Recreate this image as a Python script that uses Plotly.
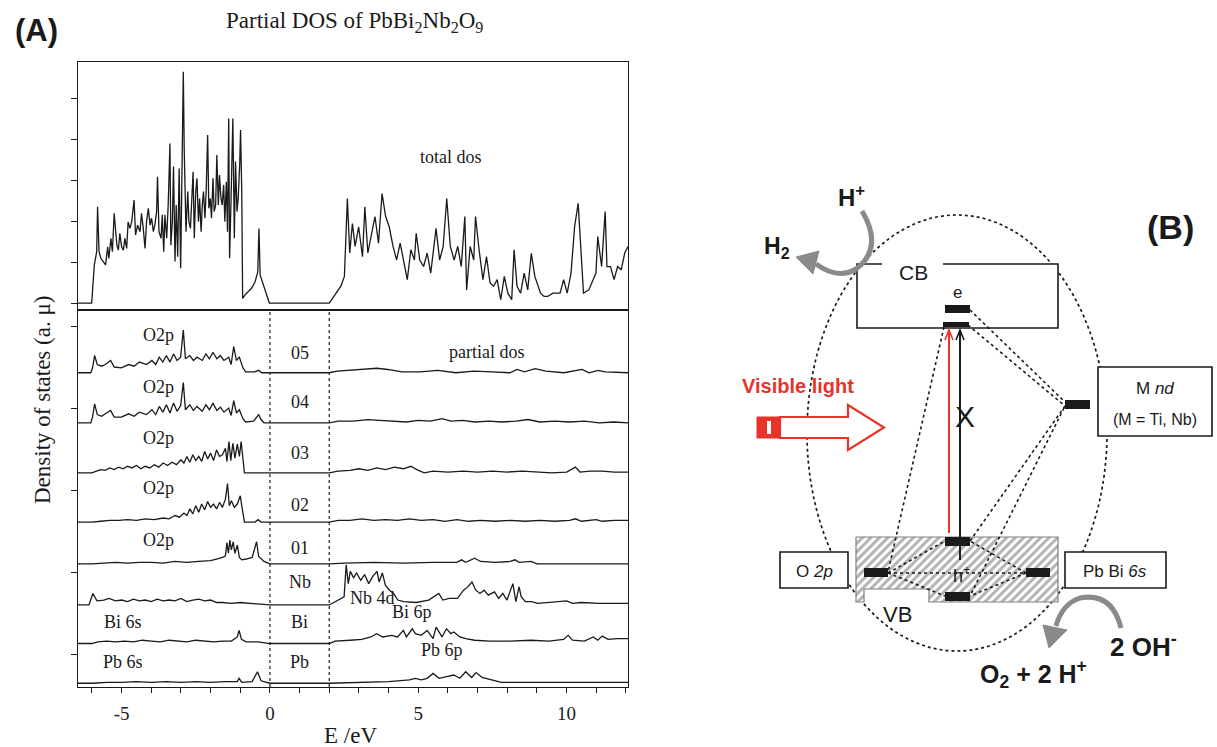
import plotly.graph_objects as go

W, H = 1217, 747

# ------------------------------------------------------------------ data
# Panel A: total DOS, (energy eV, DOS in upper-panel tick units)
total_valence = [(-6.47, 0), (-6.01, 0), (-5.99, 0.20), (-5.92, 0.93), (-5.84, 1.25), (-5.81, 2.35), (-5.76, 1.25),
                 (-5.70, 1.09), (-5.62, 1.01), (-5.54, 0.93), (-5.47, 1.37), (-5.43, 1.09), (-5.36, 1.58),
                 (-5.31, 1.25), (-5.25, 2.19), (-5.20, 1.74), (-5.16, 1.41), (-5.11, 1.29), (-5.06, 1.70),
                 (-5.00, 1.37), (-4.94, 1.29), (-4.89, 1.58), (-4.83, 1.33), (-4.78, 1.98), (-4.72, 1.82),
                 (-4.66, 1.98), (-4.58, 2.51), (-4.53, 1.66), (-4.46, 1.90), (-4.38, 1.74), (-4.33, 2.19),
                 (-4.27, 1.82), (-4.21, 1.33), (-4.16, 1.98), (-4.10, 2.31), (-4.04, 1.90), (-3.99, 2.07),
                 (-3.93, 1.74), (-3.88, 1.90), (-3.82, 2.23), (-3.79, 3.08), (-3.74, 1.74), (-3.67, 1.58),
                 (-3.63, 2.15), (-3.58, 1.25), (-3.54, 2.15), (-3.48, 1.58), (-3.43, 2.39), (-3.37, 3.89),
                 (-3.34, 1.41), (-3.29, 1.98), (-3.25, 3.33), (-3.20, 1.01), (-3.16, 2.39), (-3.11, 1.13),
                 (-3.06, 3.28), (-3.01, 0.85), (-2.98, 2.39), (-2.92, 5.64), (-2.89, 3.77), (-2.86, 2.31),
                 (-2.83, 1.74), (-2.77, 2.72), (-2.73, 1.98), (-2.68, 1.82), (-2.64, 2.39), (-2.59, 3.20),
                 (-2.55, 1.58), (-2.50, 2.72), (-2.46, 3.04), (-2.41, 1.98), (-2.37, 2.55), (-2.32, 1.74),
                 (-2.28, 2.39), (-2.24, 2.72), (-2.19, 2.07), (-2.15, 2.72), (-2.10, 4.10), (-2.06, 2.31),
                 (-2.01, 2.55), (-1.97, 2.07), (-1.92, 3.04), (-1.88, 2.23), (-1.83, 2.39), (-1.79, 3.61),
                 (-1.74, 2.39), (-1.70, 3.12), (-1.65, 2.55), (-1.61, 2.39), (-1.56, 2.88), (-1.52, 1.98),
                 (-1.47, 2.96), (-1.43, 1.74), (-1.39, 4.50), (-1.36, 1.09), (-1.31, 2.55), (-1.28, 3.45),
                 (-1.25, 4.50), (-1.20, 1.58), (-1.16, 3.45), (-1.11, 2.23), (-1.07, 2.55), (-1.02, 3.37),
                 (-0.99, 4.22), (-0.95, 2.72), (-0.92, 0.11), (-0.84, 0.20), (-0.73, 0.28), (-0.62, 0.36),
                 (-0.50, 0.52), (-0.41, 0.76), (-0.37, 1.82), (-0.33, 0.68), (-0.22, 0.44), (-0.11, 0.20),
                 (-0.02, 0.0)]
total_conduction = [(2.00, 0), (2.15, 0.16), (2.39, 0.41), (2.51, 0.65), (2.61, 2.55), (2.69, 1.22), (2.78, 1.94),
                    (2.87, 1.38), (2.99, 1.86), (3.12, 1.13), (3.20, 2.35), (3.30, 1.22), (3.42, 1.70), (3.54, 2.11),
                    (3.66, 1.46), (3.78, 2.67), (3.90, 2.11), (4.02, 1.86), (4.15, 1.38), (4.27, 1.05), (4.39, 1.46),
                    (4.51, 0.97), (4.63, 0.57), (4.75, 1.30), (4.87, 1.05), (4.93, 1.70), (5.05, 1.05), (5.18, 0.89),
                    (5.30, 1.22), (5.42, 0.73), (5.54, 1.38), (5.60, 1.82), (5.72, 1.05), (5.84, 1.38), (5.96, 2.55),
                    (6.08, 1.38), (6.21, 1.05), (6.33, 1.38), (6.45, 0.89), (6.57, 2.11), (6.63, 0.32), (6.75, 1.38),
                    (6.87, 1.05), (6.93, 2.11), (7.05, 1.30), (7.18, 0.57), (7.30, 1.13), (7.42, 0.49), (7.54, 0.41),
                    (7.66, 0.57), (7.78, 0.08), (7.90, 0.65), (8.02, 0.24), (8.15, 0.08), (8.23, 1.30), (8.33, 0.41),
                    (8.45, 0.24), (8.57, 0.73), (8.69, 0.32), (8.81, 1.21), (8.93, 0.65), (9.03, 0.41), (9.12, 0.24),
                    (9.24, 0.16), (9.36, 0.16), (9.54, 0.24), (9.78, 0.24), (9.90, 0.57), (10.02, 0.24), (10.15, 0.73),
                    (10.27, 1.86), (10.39, 2.43), (10.45, 1.70), (10.57, 0.24), (10.75, 0.32), (10.99, 0.73),
                    (11.05, 1.62), (11.18, 0.89), (11.30, 2.23), (11.36, 0.89), (11.48, 0.89), (11.60, 0.57),
                    (11.72, 0.89), (11.84, 0.81), (11.96, 1.22), (12.07, 1.38)]

# Panel A: partial DOS, (energy eV, DOS in lower-panel tick units)
pdos_O5 = [(-6.47, 0), (-6.04, 0), (-5.98, 0.06), (-5.91, 0.21), (-5.82, 0.10), (-5.67, 0.08), (-5.55, 0.10),
           (-5.37, 0.15), (-5.25, 0.07), (-5.01, 0.06), (-4.76, 0.10), (-4.58, 0.08), (-4.40, 0.13), (-4.16, 0.10),
           (-3.98, 0.15), (-3.85, 0.10), (-3.73, 0.19), (-3.61, 0.13), (-3.49, 0.21), (-3.37, 0.13), (-3.25, 0.23),
           (-3.13, 0.15), (-3.01, 0.19), (-2.92, 0.52), (-2.85, 0.17), (-2.70, 0.21), (-2.58, 0.15), (-2.46, 0.19),
           (-2.28, 0.15), (-2.16, 0.23), (-2.04, 0.17), (-1.92, 0.25), (-1.79, 0.17), (-1.67, 0.21), (-1.55, 0.15),
           (-1.39, 0.19), (-1.31, 0.10), (-1.22, 0.32), (-1.13, 0.15), (-1.03, 0.19), (-0.91, 0.06), (-0.82, 0.01),
           (-0.52, 0.01), (-0.38, 0.03), (-0.28, 0.0), (2.0, 0), (2.27, 0.02), (2.76, 0.03), (3.25, 0.04),
           (3.61, 0.055), (3.97, 0.04), (4.45, 0.01), (5.06, 0.01), (5.66, 0.03), (6.27, 0.0), (6.88, 0.02),
           (7.48, 0.01), (8.09, 0.0), (8.33, 0.04), (8.58, 0.01), (8.94, 0.05), (9.30, 0.02), (9.91, 0.0),
           (10.27, 0.02), (10.52, 0.04), (10.76, 0.0), (11.06, 0.03), (11.30, 0.01), (12.07, 0.0)]
pdos_O4 = [(-6.47, 0), (-6.04, 0), (-5.98, 0.07), (-5.91, 0.23), (-5.82, 0.10), (-5.67, 0.08), (-5.55, 0.11),
           (-5.37, 0.15), (-5.25, 0.07), (-5.01, 0.07), (-4.76, 0.11), (-4.58, 0.08), (-4.40, 0.13), (-4.16, 0.10),
           (-3.98, 0.16), (-3.85, 0.10), (-3.73, 0.20), (-3.61, 0.13), (-3.49, 0.22), (-3.37, 0.12), (-3.25, 0.24),
           (-3.13, 0.14), (-3.01, 0.21), (-2.92, 0.49), (-2.85, 0.16), (-2.70, 0.22), (-2.58, 0.15), (-2.46, 0.20),
           (-2.28, 0.14), (-2.16, 0.22), (-2.04, 0.16), (-1.92, 0.24), (-1.79, 0.15), (-1.67, 0.19), (-1.55, 0.13),
           (-1.39, 0.18), (-1.31, 0.09), (-1.22, 0.27), (-1.13, 0.12), (-1.03, 0.16), (-0.91, 0.05), (-0.82, 0.01),
           (-0.55, 0.02), (-0.45, 0.06), (-0.38, 0.10), (-0.30, 0.04), (-0.2, 0.0), (2.0, 0), (2.3, 0.02),
           (2.8, 0.02), (3.3, 0.04), (3.7, 0.03), (4.1, 0.02), (4.6, 0.01), (5.0, 0.03), (5.4, 0.02), (5.8, 0.05),
           (6.1, 0.02), (6.5, 0.03), (6.9, 0.01), (7.4, 0.02), (7.8, 0.01), (8.3, 0.02), (8.7, 0.04), (9.1, 0.01),
           (9.6, 0.02), (10.1, 0.01), (10.6, 0.02), (11.1, 0.0), (11.6, 0.01), (12.07, 0.0)]
pdos_O3 = [(-6.47, 0), (-6.0, 0), (-5.85, 0.02), (-5.7, 0.04), (-5.55, 0.03), (-5.4, 0.06), (-5.25, 0.04),
           (-5.1, 0.07), (-4.95, 0.05), (-4.8, 0.08), (-4.65, 0.06), (-4.5, 0.09), (-4.35, 0.05), (-4.2, 0.08),
           (-4.05, 0.06), (-3.9, 0.10), (-3.75, 0.07), (-3.6, 0.12), (-3.45, 0.09), (-3.3, 0.13), (-3.15, 0.10),
           (-3.0, 0.16), (-2.9, 0.12), (-2.8, 0.20), (-2.7, 0.13), (-2.6, 0.22), (-2.5, 0.15), (-2.4, 0.20),
           (-2.3, 0.14), (-2.2, 0.26), (-2.1, 0.17), (-2.0, 0.24), (-1.9, 0.15), (-1.8, 0.28), (-1.7, 0.20),
           (-1.6, 0.22), (-1.5, 0.30), (-1.45, 0.14), (-1.38, 0.38), (-1.32, 0.15), (-1.25, 0.36), (-1.18, 0.18),
           (-1.10, 0.35), (-1.03, 0.20), (-0.97, 0.38), (-0.91, 0.12), (-0.86, 0.0), (2.0, 0), (2.3, 0.02),
           (2.7, 0.03), (3.0, 0.05), (3.3, 0.03), (3.6, 0.06), (3.9, 0.04), (4.2, 0.07), (4.5, 0.05), (4.75, 0.08),
           (4.95, 0.04), (5.2, 0.0), (5.5, 0.02), (6.0, 0.01), (6.5, 0.02), (7.0, 0.01), (7.5, 0.02), (8.0, 0.01),
           (8.5, 0.02), (9.0, 0.01), (9.5, 0.0), (10.0, 0.01), (10.3, 0.07), (10.45, 0.01), (10.8, 0.02),
           (11.2, 0.02), (11.6, 0.01), (12.07, 0.01)]
pdos_O2 = [(-6.47, 0), (-6.0, 0), (-5.7, 0.01), (-5.4, 0.02), (-5.1, 0.02), (-4.8, 0.03), (-4.5, 0.02),
           (-4.2, 0.04), (-3.9, 0.03), (-3.6, 0.05), (-3.4, 0.04), (-3.2, 0.08), (-3.05, 0.06), (-2.9, 0.11),
           (-2.8, 0.08), (-2.7, 0.16), (-2.6, 0.10), (-2.5, 0.20), (-2.4, 0.12), (-2.3, 0.22), (-2.2, 0.15),
           (-2.1, 0.25), (-2.0, 0.18), (-1.9, 0.22), (-1.8, 0.16), (-1.7, 0.24), (-1.6, 0.18), (-1.5, 0.28),
           (-1.43, 0.47), (-1.37, 0.20), (-1.3, 0.26), (-1.2, 0.18), (-1.1, 0.22), (-1.0, 0.32), (-0.95, 0.20),
           (-0.91, 0.08), (-0.86, 0.0), (-0.5, 0), (-0.4, 0.03), (-0.3, 0), (2.0, 0), (2.3, 0.02), (2.7, 0.02),
           (3.1, 0.04), (3.5, 0.02), (3.9, 0.03), (4.3, 0.02), (4.7, 0.04), (5.1, 0.02), (5.5, 0.03), (5.9, 0.01),
           (6.3, 0.03), (6.7, 0.01), (7.1, 0.02), (7.6, 0.01), (8.1, 0.02), (8.6, 0.01), (9.1, 0.02), (9.6, 0.01),
           (10.1, 0.02), (10.3, 0.04), (10.5, 0.01), (11.0, 0.03), (11.2, 0.01), (11.6, 0.02), (12.07, 0.02)]
pdos_O1 = [(-6.47, 0), (-6.0, 0), (-5.6, 0.01), (-5.2, 0.02), (-4.8, 0.01), (-4.4, 0.02), (-4.0, 0.02),
           (-3.6, 0.01), (-3.2, 0.03), (-2.8, 0.02), (-2.4, 0.03), (-2.0, 0.04), (-1.8, 0.06), (-1.6, 0.08),
           (-1.5, 0.10), (-1.45, 0.26), (-1.4, 0.13), (-1.35, 0.29), (-1.3, 0.17), (-1.24, 0.27), (-1.18, 0.13),
           (-1.1, 0.23), (-1.03, 0.08), (-0.95, 0.05), (-0.8, 0.06), (-0.6, 0.08), (-0.45, 0.27), (-0.38, 0.09),
           (-0.2, 0.03), (0.0, 0), (2.0, 0), (2.5, 0.01), (3.5, 0.02), (4.5, 0.01), (5.5, 0.02), (6.3, 0.02),
           (6.46, 0.05), (6.6, 0.02), (6.9, 0.07), (7.1, 0.03), (7.6, 0.02), (8.1, 0.03), (8.26, 0.05), (8.4, 0.02),
           (8.8, 0.03), (9.0, 0.0), (12.07, 0.0)]
pdos_Nb = [(-6.47, 0), (-6.1, 0), (-5.97, 0.14), (-5.83, 0.05), (-5.6, 0.06), (-5.42, 0.08), (-5.21, 0.05),
           (-5.0, 0.06), (-4.8, 0.04), (-4.6, 0.07), (-4.4, 0.05), (-4.2, 0.06), (-4.0, 0.04), (-3.8, 0.07),
           (-3.6, 0.05), (-3.4, 0.06), (-3.2, 0.05), (-3.0, 0.08), (-2.8, 0.04), (-2.6, 0.06), (-2.4, 0.07),
           (-2.2, 0.05), (-2.0, 0.06), (-1.8, 0.03), (-1.6, 0.03), (-1.3, 0.02), (-1.0, 0.03), (-0.6, 0.02),
           (-0.2, 0.01), (0.0, 0), (2.0, 0), (2.29, 0.06), (2.50, 0.10), (2.57, 0.49), (2.64, 0.26), (2.71, 0.41),
           (2.82, 0.33), (2.92, 0.39), (3.06, 0.30), (3.19, 0.37), (3.33, 0.26), (3.47, 0.35), (3.61, 0.41),
           (3.68, 0.28), (3.79, 0.39), (3.89, 0.24), (4.03, 0.18), (4.17, 0.14), (4.31, 0.06), (4.51, 0.04),
           (4.93, 0.03), (5.35, 0.06), (5.69, 0.14), (5.83, 0.06), (6.04, 0.08), (6.32, 0.08), (6.53, 0.18),
           (6.67, 0.22), (6.81, 0.28), (6.94, 0.18), (7.08, 0.14), (7.22, 0.18), (7.36, 0.12), (7.57, 0.16),
           (7.71, 0.08), (7.85, 0.14), (7.99, 0.06), (8.19, 0.26), (8.29, 0.04), (8.40, 0.22), (8.47, 0.10),
           (8.61, 0.04), (8.82, 0.04), (9.03, 0.02), (9.65, 0.04), (10.0, 0.05), (10.2, 0.02), (10.5, 0.03),
           (11.1, 0.02), (12.07, 0.02)]
pdos_Bi = [(-6.47, 0), (-6.0, 0), (-5.8, 0.02), (-5.5, 0.03), (-5.2, 0.02), (-4.9, 0.03), (-4.6, 0.02),
           (-4.3, 0.04), (-4.0, 0.03), (-3.7, 0.02), (-3.4, 0.04), (-3.1, 0.03), (-2.8, 0.02), (-2.5, 0.04),
           (-2.2, 0.03), (-1.9, 0.02), (-1.6, 0.03), (-1.3, 0.03), (-1.1, 0.08), (-1.04, 0.16), (-0.96, 0.05),
           (-0.8, 0.02), (-0.4, 0.02), (-0.1, 0.01), (0.0, 0), (2.0, 0), (2.2, 0.03), (2.7, 0.04), (3.1, 0.05),
           (3.4, 0.08), (3.6, 0.12), (3.8, 0.08), (4.1, 0.10), (4.3, 0.08), (4.5, 0.16), (4.6, 0.08), (4.8, 0.18),
           (4.9, 0.12), (5.1, 0.10), (5.3, 0.16), (5.5, 0.06), (5.6, 0.20), (5.8, 0.08), (5.95, 0.18), (6.1, 0.12),
           (6.2, 0.14), (6.4, 0.08), (6.6, 0.06), (6.9, 0.04), (7.4, 0.03), (8.1, 0.03), (8.8, 0.04), (9.4, 0.03),
           (9.9, 0.05), (10.05, 0.10), (10.2, 0.04), (10.6, 0.03), (10.9, 0.08), (11.05, 0.04), (11.2, 0.09),
           (11.4, 0.05), (11.7, 0.06), (12.07, 0.06)]
pdos_Pb = [(-6.47, 0), (-6.0, 0), (-5.5, 0.01), (-5.0, 0.01), (-4.5, 0.02), (-4.0, 0.01), (-3.5, 0.02),
           (-3.0, 0.01), (-2.5, 0.02), (-2.0, 0.01), (-1.5, 0.02), (-1.1, 0.02), (-1.04, 0.06), (-0.95, 0.01),
           (-0.6, 0.02), (-0.42, 0.14), (-0.30, 0.03), (-0.1, 0.01), (0.0, 0), (2.0, 0), (3.0, 0.01), (3.5, 0.01),
           (4.0, 0.02), (4.7, 0.04), (4.9, 0.06), (5.1, 0.04), (5.3, 0.06), (5.5, 0.12), (5.7, 0.06), (5.95, 0.08),
           (6.2, 0.10), (6.4, 0.06), (6.6, 0.14), (6.8, 0.07), (6.95, 0.13), (7.15, 0.07), (7.35, 0.05), (7.6, 0.03),
           (7.8, 0.01), (8.5, 0.01), (9.5, 0.01), (10.5, 0.01), (11.5, 0.01), (12.07, 0.01)]

curve_names = ["05", "04", "03", "02", "01", "Nb", "Bi", "Pb"]
curve_data = [pdos_O5, pdos_O4, pdos_O3, pdos_O2, pdos_O1, pdos_Nb, pdos_Bi, pdos_Pb]
# vertical stacking baselines (layout, lower panel units)
baselines = [4.43, 3.82, 3.21, 2.61, 2.10, 1.60, 1.13, 0.646]

x_ticks = [-5, 0, 5, 10]
E_RANGE = [-6.47, 12.07]

# ------------------------------------------------------------------ figure
SERIF = "Liberation Serif, Times New Roman, serif"
SANS = "Liberation Sans, Arial, sans-serif"
INK = "#1a1a1a"

fig = go.Figure()

total = total_valence + total_conduction
fig.add_trace(go.Scatter(x=[p[0] for p in total], y=[p[1] for p in total], xaxis="x2", yaxis="y2",
                         mode="lines", line=dict(color=INK, width=1.3), hoverinfo="skip"))
for name, pairs, base in zip(curve_names, curve_data, baselines):
    fig.add_trace(go.Scatter(x=[p[0] for p in pairs], y=[p[1] + base for p in pairs],
                             xaxis="x", yaxis="y", mode="lines", name=name,
                             line=dict(color=INK, width=1.3), hoverinfo="skip"))

# Panel B hatched valence band (pixel-coordinate helper axes x3/y3)
fig.add_trace(go.Scatter(x=[856, 1058, 1058, 929, 929, 864, 864, 856, 856],
                         y=[537, 537, 602, 602, 589, 589, 602, 602, 537],
                         xaxis="x3", yaxis="y3", mode="lines", fill="toself",
                         line=dict(color="#808080", width=1.2),
                         fillcolor="white",
                         fillpattern=dict(shape="/", fgcolor="#666666", bgcolor="white", size=6, solidity=0.5),
                         hoverinfo="skip"))

xdom = [78 / W, 628 / W]
axis_common = dict(showline=True, linecolor=INK, linewidth=1.4, mirror=True, showgrid=False, zeroline=False)

fig.update_layout(
    width=W, height=H, autosize=False,
    margin=dict(l=0, r=0, t=0, b=0),
    paper_bgcolor="white", plot_bgcolor="rgba(0,0,0,0)",
    showlegend=False,
    xaxis=dict(domain=xdom, range=E_RANGE, anchor="y", ticks="outside", ticklen=5, tickwidth=1.2,
               tickcolor=INK, tickvals=x_ticks, ticktext=[str(v) for v in x_ticks],
               minor=dict(dtick=1, tick0=0, ticks="outside", ticklen=5, tickwidth=1.2, tickcolor=INK),
               tickfont=dict(family=SERIF, size=19, color=INK), ticklabelstandoff=4, **axis_common),
    yaxis=dict(domain=[1 - 687 / H, 1 - 310 / H], range=[0.6, 5.195], anchor="x", ticks="outside",
               ticklen=6, tickwidth=1.2, tickcolor=INK, tickvals=[1, 2, 3, 4, 5], showticklabels=False,
               **axis_common),
    xaxis2=dict(domain=xdom, range=E_RANGE, anchor="y2", ticks="", showticklabels=False, **axis_common),
    yaxis2=dict(domain=[1 - 310 / H, 1 - 62 / H], range=[-0.17, 5.878], anchor="x2", ticks="outside",
                ticklen=6, tickwidth=1.2, tickcolor=INK, tickvals=[0, 1, 2, 3, 4, 5], showticklabels=False,
                **axis_common),
    xaxis3=dict(domain=[0, 1], range=[0, W], anchor="y3", visible=False, fixedrange=True),
    yaxis3=dict(domain=[0, 1], range=[H, 0], anchor="x3", visible=False, fixedrange=True),
)

shapes = []
# Panel A dotted guides at 0 and 2 eV
for xv in (0, 2):
    shapes.append(dict(type="line", xref="x", yref="y", x0=xv, x1=xv, y0=0.6, y1=5.195,
                       line=dict(color=INK, width=1.2, dash="dot")))

# ---- Panel B schematic (pixel coords on x3/y3)
def px(**kw):
    d = dict(xref="x3", yref="y3")
    d.update(kw)
    return d

BL = dict(color=INK, width=1.6)
shapes.append(px(type="circle", x0=807, x1=1107, y0=215, y1=651, layer="below",
                 line=dict(color=INK, width=1.7, dash="dot")))
# CB box
shapes.append(px(type="rect", x0=857, x1=1058, y0=264, y1=328, fillcolor="white", line=dict(width=0)))
shapes.append(px(type="path", path="M 882 264 L 857 264 L 857 328 L 1058 328 L 1058 264 L 943 264", line=BL))
shapes.append(px(type="rect", x0=945, x1=970, y0=305, y1=313, fillcolor=INK, line=dict(width=0)))
shapes.append(px(type="rect", x0=943, x1=969, y0=322, y1=327, fillcolor=INK, line=dict(width=0)))
# M nd box and level
shapes.append(px(type="rect", x0=1098, x1=1212, y0=367, y1=436, fillcolor="white", line=BL))
shapes.append(px(type="rect", x0=1065, x1=1090, y0=400, y1=409, fillcolor=INK, line=dict(width=0)))
# O 2p and Pb Bi 6s boxes
shapes.append(px(type="rect", x0=780, x1=848, y0=552, y1=588, fillcolor="white", line=BL))
shapes.append(px(type="rect", x0=1065, x1=1166, y0=552, y1=588, fillcolor="white", line=BL))
# dotted connections
dotted = [(970, 310, 1065, 402), (968, 325, 1065, 406), (944, 327, 888, 572),
          (1065, 406, 970, 541), (1064, 408, 970, 596),
          (888, 573, 945, 541), (888, 573, 945, 596), (888, 573, 1026, 573),
          (1026, 573, 970, 541), (1026, 573, 970, 596)]
for x0, y0, x1, y1 in dotted:
    shapes.append(px(type="line", x0=x0, y0=y0, x1=x1, y1=y1, line=dict(color=INK, width=1.6, dash="dot")))
# VB levels
for x0, x1, y0, y1 in [(864, 888, 568, 577), (1026, 1050, 568, 577), (945, 970, 537, 546), (945, 970, 592, 601)]:
    shapes.append(px(type="rect", x0=x0, x1=x1, y0=y0, y1=y1, fillcolor=INK, line=dict(width=0)))
# vertical excitation arrows
RED = "#e8332a"
shapes.append(px(type="line", x0=949, x1=949, y0=533, y1=331, line=dict(color=RED, width=2)))
shapes.append(px(type="path", path="M 945 340 L 949 330 L 953 340", line=dict(color=RED, width=1.6)))
shapes.append(px(type="line", x0=960, x1=960, y0=560, y1=331, line=dict(color=INK, width=2)))
shapes.append(px(type="path", path="M 956 340 L 960 330 L 964 340", line=dict(color=INK, width=1.6)))
# visible light hollow arrow
shapes.append(px(type="path", path="M 780 417 L 848 417 L 848 405 L 884 427.5 L 848 450 L 848 438 L 780 438 Z",
                 line=dict(color=RED, width=2.2), fillcolor="white"))
shapes.append(px(type="rect", x0=757, x1=780, y0=417, y1=438, fillcolor=RED, line=dict(color=RED, width=1)))
shapes.append(px(type="rect", x0=767, x1=771, y0=421, y1=434, fillcolor="white", line=dict(width=0)))
# grey curved arrows
GREY = "#8a8a8a"
shapes.append(px(type="path", path="M 862 211 Q 884 248 856 269 Q 838 280 816 264",
                 line=dict(color=GREY, width=5)))
shapes.append(px(type="path", path="M 796 257 L 819 251 L 813 274 Z", fillcolor=GREY, line=dict(color=GREY, width=1)))
shapes.append(px(type="path", path="M 1121 628 Q 1112 592 1080 598 Q 1062 604 1056 626",
                 line=dict(color=GREY, width=5)))
shapes.append(px(type="path", path="M 1049 648 L 1043 625 L 1067 630 Z", fillcolor=GREY, line=dict(color=GREY, width=1)))

fig.update_layout(shapes=shapes)

ann = []
def txt(text, x, y, size, family=SERIF, color=INK, xref="paper", yref="paper", **kw):
    if xref == "paper":
        x, y = x / W, 1 - y / H
    d = dict(text=text, x=x, y=y, xref=xref, yref=yref, showarrow=False, xanchor="center", yanchor="middle",
             font=dict(family=family, size=size, color=color))
    d.update(kw)
    ann.append(d)

# Panel A labels
txt("<b>(A)</b>", 36, 30, 31, family=SANS)
txt("Partial DOS of PbBi<sub>2</sub>Nb<sub>2</sub>O<sub>9</sub>", 354, 22, 23)
txt("Density of states (a. \u03bc)", 42, 400, 23, textangle=-90)
txt("E /eV", 350, 735, 23)
txt("total dos", 6.1, 3.56, 18, xref="x2", yref="y2")
txt("partial dos", 7.3, 4.68, 18, xref="x", yref="y")
for yv in (4.89, 4.26, 3.63, 3.02, 2.39):
    txt("O2p", -3.75, yv, 18, xref="x", yref="y")
for lab, yv in zip(["05", "04", "03", "02", "01", "Nb", "Bi", "Pb"],
                   [4.67, 4.07, 3.45, 2.82, 2.30, 1.88, 1.39, 0.90]):
    txt(lab, 1.0, yv, 18, xref="x", yref="y")
txt("Nb 4d", 3.45, 1.68, 18, xref="x", yref="y")
txt("Bi 6s", -4.95, 1.39, 18, xref="x", yref="y")
txt("Bi 6p", 4.8, 1.51, 18, xref="x", yref="y")
txt("Pb 6s", -4.95, 0.90, 18, xref="x", yref="y")
txt("Pb 6p", 5.8, 1.05, 18, xref="x", yref="y")

# Panel B labels
txt("<b>(B)</b>", 1170, 227, 34, family=SANS)
txt("<b>H<sup>+</sup></b>", 851, 196, 24, family=SANS)
txt("<b>H<sub>2</sub></b>", 777, 247, 23, family=SANS)
txt("CB", 913, 272, 21, family=SANS)
txt("e", 957, 292, 17, family=SANS)
txt("<b>Visible light</b>", 798, 386, 20, family=SANS, color=RED)
txt("X", 965, 417, 30, family=SANS)
txt("M <i>nd</i>", 1155, 388, 17, family=SANS)
txt("(M = Ti, Nb)", 1155, 419, 16, family=SANS)
txt("O <i>2p</i>", 814, 571, 17, family=SANS)
txt("Pb Bi <i>6s</i>", 1115, 571, 17, family=SANS)
txt("h<sup>+</sup>", 961, 574, 18, family=SANS)
txt("VB", 897, 614, 22, family=SANS)
txt("<b>2 OH<sup>-</sup></b>", 1143, 645, 26, family=SANS)
txt("<b>O<sub>2</sub> + 2 H<sup>+</sup></b>", 1033, 674, 25, family=SANS)

fig.update_layout(annotations=ann)
fig.write_html("out.html")
